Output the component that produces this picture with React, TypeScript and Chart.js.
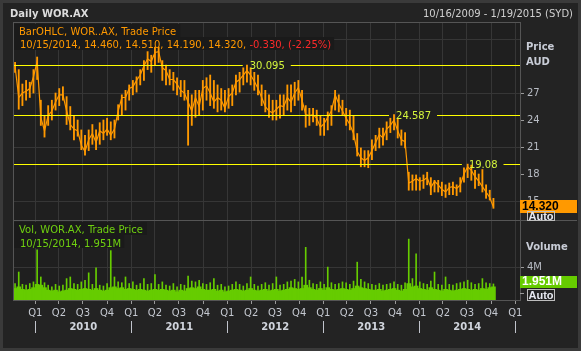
import React, { useEffect, useRef } from 'react';
import { Chart, registerables } from 'chart.js';

Chart.register(...registerables);

const W = 581;
const H = 351;

// ---- data (fortnightly samples) ----
const startDate = '2009-10-16';
const stepDays = 14;

const closes = [
  30.0, 26.5, 27.0, 27.2, 27.5, 28.8, 30.5, 24.3, 22.8, 24.5,
  25.0, 26.0, 26.8, 26.8, 25.0, 23.5, 23.0, 22.8, 21.2, 20.5,
  21.8, 22.5, 21.5, 22.8, 22.5, 23.0, 22.3, 23.0, 25.0, 26.5,
  26.5, 27.5, 27.7, 28.4, 29.0, 30.0, 30.8, 30.5, 31.5, 31.6,
  29.8, 29.5, 28.5, 28.5, 28.0, 27.3, 27.0, 26.0, 25.0, 26.5,
  25.5, 27.5, 27.8, 27.0, 26.0, 26.5, 26.2, 25.3, 26.6, 27.0,
  28.2, 28.5, 29.0, 29.5, 29.0, 28.3, 27.5, 26.5, 25.5, 25.0,
  24.8, 25.2, 25.6, 25.5, 26.5, 26.0, 27.0, 27.6, 26.2, 24.6,
  24.5, 24.6, 24.2, 23.2, 23.6, 24.3, 25.0, 26.8, 25.8, 25.0,
  24.2, 23.5, 22.5, 20.5, 19.8, 19.5, 19.8, 20.6, 21.5, 22.4,
  22.0, 23.0, 23.4, 24.0, 22.8, 21.8, 21.6, 17.0, 17.2, 17.5,
  17.2, 17.3, 17.6, 16.5, 17.2, 16.8, 16.3, 16.0, 16.5, 16.6,
  16.4, 16.8, 18.0, 18.8, 18.4, 17.7, 17.2, 16.6, 16.0, 15.4,
  14.32,
];

const highs = [
  30.4, 29.6, 28.0, 28.4, 28.2, 29.6, 31.0, 26.2, 24.5, 25.6,
  26.2, 27.0, 27.5, 27.7, 26.6, 25.5, 24.5, 24.0, 22.9, 22.3,
  22.9, 23.5, 22.9, 23.7, 24.0, 24.2, 23.8, 24.0, 25.7, 26.8,
  27.3, 27.9, 28.4, 28.8, 29.6, 30.6, 31.6, 31.2, 32.1, 32.1,
  30.6, 30.1, 29.6, 29.3, 28.7, 28.4, 28.4, 27.3, 26.8, 27.3,
  27.3, 28.4, 28.7, 29.0, 28.4, 27.9, 27.5, 27.3, 27.5, 27.9,
  29.0, 29.3, 29.8, 30.1, 29.8, 29.3, 29.0, 27.9, 27.3, 26.8,
  26.2, 26.2, 26.8, 26.8, 27.9, 27.9, 28.2, 28.4, 27.3, 25.6,
  25.3, 25.3, 25.1, 24.5, 24.2, 24.9, 25.6, 27.3, 26.8, 26.2,
  25.3, 25.1, 24.5, 22.5, 20.9, 20.6, 20.6, 21.8, 22.3, 23.1,
  23.1, 23.8, 24.2, 24.6, 24.2, 22.9, 22.6, 18.2, 17.9, 17.9,
  17.6, 17.9, 18.2, 17.6, 17.3, 17.3, 17.1, 16.8, 17.0, 17.1,
  16.8, 17.6, 18.7, 19.1, 19.0, 18.4, 18.0, 18.5, 16.8, 16.2,
  15.3,
];

const lows = [
  29.3, 25.2, 25.6, 26.2, 26.5, 27.0, 28.5, 23.4, 22.1, 23.4,
  24.0, 25.1, 25.6, 26.2, 23.5, 22.9, 21.8, 22.2, 20.7, 20.1,
  20.6, 21.3, 20.7, 21.3, 21.8, 22.3, 21.8, 22.0, 24.0, 24.5,
  25.1, 26.2, 26.8, 27.1, 27.9, 28.4, 29.6, 29.3, 30.1, 30.4,
  28.4, 27.9, 27.9, 27.3, 26.8, 26.6, 26.2, 21.2, 23.4, 24.3,
  24.5, 25.1, 26.2, 25.6, 25.3, 24.9, 25.1, 24.9, 25.3, 25.6,
  26.8, 27.1, 27.9, 28.2, 27.9, 27.3, 26.8, 25.6, 24.9, 24.3,
  24.0, 24.0, 24.2, 24.5, 25.1, 24.9, 25.6, 26.2, 25.1, 23.2,
  23.4, 23.8, 23.4, 22.3, 22.3, 22.9, 23.4, 25.1, 24.9, 24.5,
  23.4, 22.9, 21.8, 20.0, 18.8, 18.8, 18.7, 19.6, 20.6, 20.9,
  21.2, 21.8, 22.6, 22.9, 22.0, 21.2, 20.9, 16.2, 16.2, 16.2,
  16.2, 16.4, 16.8, 15.7, 16.0, 16.0, 15.6, 15.4, 15.7, 15.7,
  15.6, 16.0, 17.1, 17.6, 17.3, 16.4, 16.7, 16.0, 15.3, 15.1,
  14.19,
];

// volume in millions: typical level of the fortnight and its busiest day
const volTypical = [
  1.4, 1.6, 1.3, 1.2, 1.3, 1.5, 1.9, 1.8, 1.5, 1.2,
  1.1, 1.2, 1.0, 1.1, 1.2, 1.4, 1.3, 1.2, 1.3, 1.4,
  1.3, 1.2, 1.4, 1.2, 1.1, 1.2, 1.5, 1.6, 1.4, 1.5,
  1.3, 1.4, 1.3, 1.2, 1.3, 1.2, 1.1, 1.2, 1.3, 1.2,
  1.3, 1.2, 1.1, 1.2, 1.0, 1.2, 1.1, 1.4, 1.5, 1.4,
  1.6, 1.3, 1.2, 1.2, 1.3, 1.1, 1.2, 1.0, 1.1, 1.2,
  1.3, 1.2, 1.1, 1.2, 1.4, 1.2, 1.1, 1.2, 1.3, 1.1,
  1.2, 1.3, 1.1, 1.2, 1.3, 1.5, 1.4, 1.3, 1.4, 1.8,
  1.5, 1.3, 1.2, 1.4, 1.2, 1.5, 1.3, 1.2, 1.3, 1.4,
  1.3, 1.2, 1.4, 1.7, 1.5, 1.4, 1.3, 1.2, 1.2, 1.3,
  1.1, 1.2, 1.3, 1.4, 1.2, 1.1, 1.3, 2.0, 1.6, 1.7,
  1.4, 1.3, 1.2, 1.5, 1.3, 1.2, 1.1, 1.3, 1.2, 1.1,
  1.2, 1.3, 1.4, 1.3, 1.2, 1.3, 1.2, 1.4, 1.3, 1.5,
  1.6,
];

const volPeak = [
  2.0, 3.4, 1.9, 1.8, 2.0, 2.2, 6.1, 2.8, 2.1, 1.8,
  1.6, 1.9, 1.7, 1.8, 2.6, 2.8, 2.0, 1.9, 2.2, 2.4,
  3.3, 1.9, 3.9, 1.8, 1.7, 2.0, 6.0, 2.8, 2.2, 2.1,
  2.8, 2.0, 2.2, 1.8, 2.0, 2.6, 1.9, 2.0, 3.1, 1.9,
  2.2, 1.8, 1.7, 2.0, 1.6, 1.9, 1.8, 2.9, 2.3, 2.2,
  2.4, 2.0, 1.9, 2.1, 2.6, 1.8, 1.9, 1.6, 1.7, 1.9,
  2.2, 1.9, 1.7, 2.0, 2.8, 1.9, 1.7, 1.9, 2.1, 1.8,
  2.0, 2.8, 1.8, 1.9, 2.2, 2.3, 2.5, 2.2, 2.8, 6.4,
  2.4, 2.0, 1.9, 2.2, 1.9, 4.0, 2.1, 1.9, 2.0, 2.2,
  2.1, 1.9, 2.3, 4.6, 2.5, 2.2, 2.0, 1.9, 1.8, 2.0,
  1.8, 1.9, 2.0, 2.2, 1.9, 1.8, 2.1, 7.4, 2.6, 5.6,
  2.2, 2.0, 1.9, 2.3, 3.4, 1.9, 1.8, 2.8, 1.9, 1.8,
  2.0, 2.1, 2.2, 2.4, 2.1, 1.9, 2.0, 2.6, 2.1, 2.0,
  1.951,
];

const levels = [30.095, 24.587, 19.08];
const levelLabels = ['30.095', '24.587', '19.08'];
const levelDates = ['2012-02-29', '2013-09-08', '2014-06-12'];

const priceTicks = [15, 18, 21, 24, 27, 30, 33];
const priceTickLabels = ['15', '18', '21', '24', '27', '', ''];
const priceGridTicks = [15, 21, 27, 33];
const volTicks = [4];
const volTickLabels = ['4M'];
const years = [2010, 2011, 2012, 2013, 2014];
const quarterLabels = ['Q1', 'Q2', 'Q3', 'Q4'];
const axisStart = '2009-10-12';
const axisEnd = '2015-01-19';

const titleText = 'Daily WOR.AX';
const rangeText = '10/16/2009 - 1/19/2015 (SYD)';
const priceLegend1 = 'BarOHLC, WOR..AX, Trade Price';
const priceLegend2a = '10/15/2014, 14.460, 14.510, 14.190, 14.320, ';
const priceLegend2b = '-0.330, (-2.25%)';
const volLegend1 = 'Vol, WOR.AX, Trade Price';
const volLegend2 = '10/15/2014, 1.951M';
const lastPriceText = '14.320';
const lastVolText = '1.951M';
const lastVol = 1.951;

// ---- helpers ----
function parseDay(s: string): Date {
  return new Date(s + 'T00:00:00Z');
}
function yearFrac(d: Date): number {
  const y = d.getUTCFullYear();
  const a = Date.UTC(y, 0, 1);
  const b = Date.UTC(y + 1, 0, 1);
  return y + (d.getTime() - a) / (b - a);
}

const sampleX = closes.map((_, i) =>
  yearFrac(new Date(parseDay(startDate).getTime() + i * stepDays * 86400000))
);

const quarterTicks: { value: number; label: string }[] = [];
for (let y = years[0]; y <= years[years.length - 1] + 1; y++) {
  for (let q = 0; q < 4; q++) {
    if (y === years[years.length - 1] + 1 && q > 0) break;
    quarterTicks.push({ value: yearFrac(new Date(Date.UTC(y, q * 3, 1))), label: quarterLabels[q] });
  }
}

const FONT = '"DejaVu Sans", sans-serif';
const ORANGE = '#ff9900';
const GREEN = '#66cc00';

const decor = {
  id: 'decor',
  beforeDraw(chart: any) {
    const { ctx, chartArea: a } = chart;
    ctx.save();
    ctx.fillStyle = '#3a3a3a';
    ctx.fillRect(0, 0, W, H);
    ctx.fillStyle = '#232323';
    ctx.fillRect(3, 3, W - 6, H - 6);
    ctx.fillStyle = '#1f1f1f';
    ctx.fillRect(a.left, a.top, a.right - a.left, a.bottom - a.top);
    ctx.restore();
  },
  beforeDatasetsDraw(chart: any) {
    const { ctx } = chart;
    const ys = chart.scales.y;
    const vs = chart.scales.yv;
    const left = chart.chartArea.left;
    ctx.save();
    ctx.font = '10px ' + FONT;
    ctx.fillStyle = '#1a1a1a';
    const w1 = ctx.measureText(priceLegend1).width;
    const w2 = ctx.measureText(priceLegend2a + priceLegend2b).width;
    ctx.fillRect(left, ys.top + 1, w1 + 9, 13);
    ctx.fillRect(left, ys.top + 14, w2 + 9, 13);
    const w3 = ctx.measureText(volLegend1).width;
    const w4 = ctx.measureText(volLegend2).width;
    ctx.fillRect(left, vs.top + 1, w3 + 9, 13);
    ctx.fillRect(left, vs.top + 14, w4 + 9, 13);
    ctx.restore();
  },
  afterDatasetsDraw(chart: any) {
    const { ctx, chartArea: a } = chart;
    const ys = chart.scales.y;
    const xs = chart.scales.x;
    ctx.save();
    ctx.font = '10px ' + FONT;
    ctx.textBaseline = 'middle';
    levels.forEach((v, k) => {
      const y = Math.round(ys.getPixelForValue(v)) + 0.5;
      const gx = xs.getPixelForValue(yearFrac(parseDay(levelDates[k])));
      const tw = ctx.measureText(levelLabels[k]).width;
      ctx.strokeStyle = '#ffff00';
      ctx.lineWidth = 1;
      ctx.beginPath();
      ctx.moveTo(a.left, y);
      ctx.lineTo(gx, y);
      ctx.moveTo(gx + 7 + tw + 6, y);
      ctx.lineTo(a.right, y);
      ctx.stroke();
      ctx.fillStyle = '#d4f53c';
      ctx.fillText(levelLabels[k], gx + 7, y + 0.5);
    });
    ctx.restore();
  },
  afterDraw(chart: any) {
    const { ctx, chartArea: a } = chart;
    const ys = chart.scales.y;
    const vs = chart.scales.yv;
    const xs = chart.scales.x;
    ctx.save();
    // plot frame and pane separator
    ctx.strokeStyle = '#555555';
    ctx.lineWidth = 1;
    ctx.strokeRect(a.left - 0.5, a.top - 0.5, a.right - a.left + 1, a.bottom - a.top + 1);
    const sep = Math.round(ys.bottom) - 0.5;
    ctx.beginPath();
    ctx.moveTo(a.left, sep);
    ctx.lineTo(W - 4, sep);
    ctx.stroke();

    // title bar texts
    ctx.textBaseline = 'alphabetic';
    ctx.fillStyle = '#dcdcdc';
    ctx.font = 'bold 10px ' + FONT;
    ctx.textAlign = 'left';
    ctx.fillText(titleText, 10, 17);
    ctx.font = '10px ' + FONT;
    ctx.textAlign = 'right';
    ctx.fillStyle = '#d0d0d0';
    ctx.fillText(rangeText, 573, 17);

    // legends
    ctx.textAlign = 'left';
    ctx.font = '10px ' + FONT;
    ctx.fillStyle = ORANGE;
    ctx.fillText(priceLegend1, a.left + 5, ys.top + 12);
    ctx.fillText(priceLegend2a, a.left + 6, ys.top + 25);
    const wa = ctx.measureText(priceLegend2a).width;
    ctx.fillStyle = '#ff2a2a';
    ctx.fillText(priceLegend2b, a.left + 6 + wa, ys.top + 25);
    ctx.fillStyle = '#6fd010';
    ctx.fillText(volLegend1, a.left + 5, vs.top + 12);
    ctx.fillText(volLegend2, a.left + 6, vs.top + 26);

    // axis captions
    ctx.fillStyle = '#c8ccd6';
    ctx.font = 'bold 10px ' + FONT;
    ctx.fillText('Price', a.right + 6, 50);
    ctx.fillText('AUD', a.right + 6, 65);
    ctx.fillText('Volume', a.right + 6, 250);

    // last value boxes
    const py = ys.getPixelForValue(closes[closes.length - 1]);
    ctx.fillStyle = ORANGE;
    ctx.fillRect(a.right, Math.round(py) - 7, 57, 13);
    ctx.fillStyle = '#000000';
    ctx.font = 'bold 12px "Liberation Sans", sans-serif';
    ctx.textBaseline = 'middle';
    ctx.fillText(lastPriceText, a.right + 2, Math.round(py) - 0.5);

    const vy = vs.getPixelForValue(lastVol) - 2;
    ctx.fillStyle = GREEN;
    ctx.fillRect(a.right, Math.round(vy) - 6, 57, 12);
    ctx.fillStyle = '#ffffff';
    ctx.fillText(lastVolText, a.right + 2, Math.round(vy));

    // Auto boxes
    const autoBox = (top: number, h: number) => {
      ctx.strokeStyle = '#bdbdbd';
      ctx.lineWidth = 1;
      ctx.strokeRect(a.right + 7.5, top + 0.5, 27, h);
      ctx.fillStyle = '#e6e8f0';
      ctx.font = 'bold 11px "Liberation Sans", sans-serif';
      ctx.textBaseline = 'middle';
      ctx.fillText('Auto', a.right + 8.5, top + h / 2 + 1);
    };
    autoBox(ys.bottom - 10, 9);
    autoBox(vs.bottom - 11, 11);
    ctx.strokeStyle = '#9a9a9a';
    ctx.beginPath();
    ctx.moveTo(a.right, vs.bottom - 6.5);
    ctx.lineTo(a.right + 4, vs.bottom - 6.5);
    ctx.stroke();

    // year row
    ctx.font = 'bold 10px ' + FONT;
    ctx.fillStyle = '#d0d4dc';
    ctx.textAlign = 'center';
    ctx.textBaseline = 'middle';
    years.forEach((y) => {
      const x0 = xs.getPixelForValue(yearFrac(new Date(Date.UTC(y, 0, 1))));
      const x1 = xs.getPixelForValue(yearFrac(new Date(Date.UTC(y + 1, 0, 1))));
      ctx.fillText(String(y), (x0 + x1) / 2, 327);
    });
    ctx.strokeStyle = '#c0c4cc';
    [...years, years[years.length - 1] + 1].forEach((y) => {
      const xp = Math.round(xs.getPixelForValue(yearFrac(new Date(Date.UTC(y, 0, 1))))) + 0.5;
      ctx.beginPath();
      ctx.moveTo(xp, 321);
      ctx.lineTo(xp, 333);
      ctx.stroke();
    });
    ctx.restore();
  },
};

export default function App() {
  const ref = useRef<HTMLCanvasElement | null>(null);
  useEffect(() => {
    if (!ref.current) return;
    const chart = new Chart(ref.current, {
      type: 'bar',
      data: {
        datasets: [
          {
            type: 'line',
            data: closes.map((c, i) => ({ x: sampleX[i], y: c })),
            borderColor: ORANGE,
            borderWidth: 1.2,
            pointRadius: 0,
            tension: 0,
            yAxisID: 'y',
            order: 0,
          } as any,
          {
            type: 'bar',
            data: closes.map((_, i) => ({ x: sampleX[i], y: [lows[i], highs[i]] })),
            backgroundColor: ORANGE,
            barThickness: 1.2,
            grouped: false,
            yAxisID: 'y',
            order: 1,
          },
          {
            type: 'bar',
            data: volPeak.map((v, i) => ({ x: sampleX[i], y: v })),
            backgroundColor: GREEN,
            barThickness: 1,
            grouped: false,
            yAxisID: 'yv',
            order: 2,
          },
          {
            type: 'bar',
            data: volTypical.map((v, i) => ({ x: sampleX[i], y: v })),
            backgroundColor: GREEN,
            barThickness: 4,
            grouped: false,
            yAxisID: 'yv',
            order: 3,
          },
        ],
      },
      options: {
        animation: false,
        responsive: false,
        devicePixelRatio: 1,
        events: [],
        layout: { padding: { left: 14, top: 23, right: 0, bottom: 0 } },
        plugins: { legend: { display: false }, tooltip: { enabled: false } },
        scales: {
          x: {
            type: 'linear',
            offset: false,
            min: yearFrac(parseDay(axisStart)),
            max: yearFrac(parseDay(axisEnd)),
            afterBuildTicks: (s: any) => {
              s.ticks = quarterTicks.map((t) => ({ value: t.value }));
            },
            afterFit: (s: any) => {
              s.height = 51;
            },
            ticks: {
              autoSkip: false,
              maxRotation: 0,
              padding: 3,
              color: '#c4c8d0',
              font: { family: '"DejaVu Sans", sans-serif', size: 10 },
              callback: (_v: any, i: number) => quarterTicks[i] ? quarterTicks[i].label : '',
            },
            grid: { offset: false, color: '#363636', tickColor: '#9a9a9a', tickLength: 4 },
            border: { display: false },
          },
          y: {
            type: 'linear',
            position: 'right',
            stack: 'panes',
            stackWeight: 198,
            min: 12.78,
            max: 34.78,
            afterBuildTicks: (s: any) => {
              s.ticks = priceTicks.map((v) => ({ value: v }));
            },
            afterFit: (s: any) => {
              s.width = 61;
            },
            ticks: {
              padding: 3,
              color: '#b8bcc4',
              font: { family: '"DejaVu Sans", sans-serif', size: 10 },
              callback: (_v: any, i: number) => priceTickLabels[i],
            },
            grid: {
              color: (c: any) => (priceGridTicks.includes(c.tick?.value) ? '#363636' : 'rgba(0,0,0,0)'),
              tickColor: (c: any) => (priceTickLabels[c.index] ? '#9a9a9a' : 'rgba(0,0,0,0)'),
              tickLength: 4,
            },
            border: { display: false },
          },
          yv: {
            type: 'linear',
            position: 'right',
            stack: 'panes',
            stackWeight: 79,
            min: 0,
            max: 9.6,
            afterBuildTicks: (s: any) => {
              s.ticks = volTicks.map((v) => ({ value: v }));
            },
            afterFit: (s: any) => {
              s.width = 61;
            },
            ticks: {
              padding: 3,
              color: '#b8bcc4',
              font: { family: '"DejaVu Sans", sans-serif', size: 10 },
              callback: (_v: any, i: number) => volTickLabels[i],
            },
            grid: { color: '#363636', tickColor: '#9a9a9a', tickLength: 4 },
            border: { display: false },
          },
        },
      } as any,
      plugins: [decor],
    });
    return () => chart.destroy();
  }, []);

  return (
    <div style={{ position: 'fixed', left: 0, top: 0, width: W, height: H, background: '#232323' }}>
      <canvas ref={ref} width={W} height={H} style={{ display: 'block', width: W, height: H }} />
    </div>
  );
}
